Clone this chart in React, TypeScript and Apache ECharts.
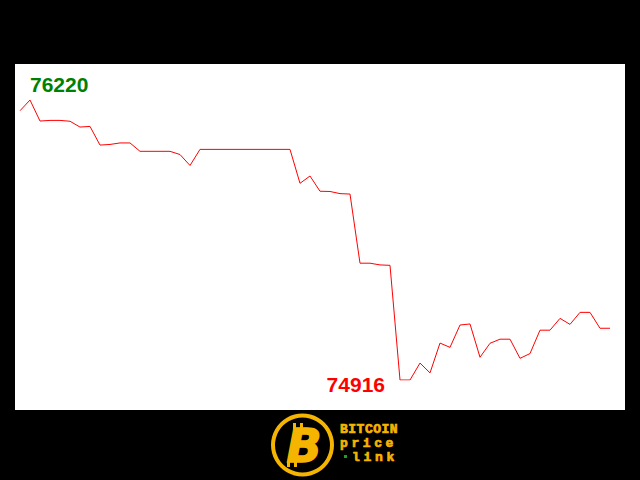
import React, { useEffect, useRef } from "react";
import * as echarts from "echarts";

// one price sample per step
const prices = [
  76170, 76220, 76122, 76125, 76125, 76121, 76094, 76097, 76010, 76013,
  76020, 76020, 75981, 75981, 75981, 75981, 75966, 75915, 75990, 75990,
  75990, 75990, 75990, 75990, 75990, 75990, 75990, 75990, 75832, 75866,
  75795, 75794, 75784, 75782, 75460, 75460, 75452, 75450, 74916, 74916,
  74995, 74949, 75088, 75068, 75172, 75177, 75022, 75087, 75106, 75106,
  75017, 75039, 75148, 75148, 75203, 75175, 75231, 75231, 75157, 75157,
];
const steps = prices.map((_, i) => String(i));

const logoWord = "BITCOIN";
const logoPrice = "price";
const logoLink = "link";
const gold = "#f5b400";

const App = () => {
  const el = useRef<HTMLDivElement>(null);

  useEffect(() => {
    if (!el.current) return;
    const chart = echarts.init(el.current, null, { renderer: "svg" });

    const logoText = (text: string, x: number, y: number, size: number) => ({
      type: "text",
      x,
      y,
      style: {
        text,
        fill: gold,
        stroke: gold,
        lineWidth: 0.7,
        font: `bold ${size}px "Liberation Mono", monospace`,
        lineHeight: 11,
        textAlign: "left",
        textVerticalAlign: "middle",
      },
    });
    // the logo letters are spaced wider than the font, so set letter by letter
    const letters = (word: string, x0: number, y: number, step: number, size: number) =>
      word.split("").map((ch, k) => logoText(ch, x0 + k * step, y, size));

    chart.setOption({
      animation: false,
      backgroundColor: "#000000",
      grid: { left: 20, right: 30, top: 100, height: 280 },
      xAxis: {
        type: "category",
        boundaryGap: false,
        data: steps,
        show: false,
      },
      yAxis: {
        type: "value",
        min: "dataMin",
        max: "dataMax",
        show: false,
      },
      graphic: [
        {
          type: "rect",
          z: -10,
          shape: { x: 15, y: 64, width: 610, height: 346 },
          style: { fill: "#ffffff" },
        },
        {
          type: "ring",
          shape: { cx: 302.5, cy: 445, r: 31.5, r0: 27.5 },
          style: { fill: gold },
        },
        {
          type: "text",
          x: 304,
          y: 446,
          style: {
            text: "B",
            fill: gold,
            stroke: gold,
            lineWidth: 1.5,
            font: 'italic 900 46px "DejaVu Sans", sans-serif',
            textAlign: "center",
            textVerticalAlign: "middle",
          },
        },
        { type: "rect", shape: { x: 293, y: 423, width: 3, height: 6 }, style: { fill: gold } },
        { type: "rect", shape: { x: 300, y: 423, width: 3, height: 6 }, style: { fill: gold } },
        { type: "rect", shape: { x: 287, y: 462, width: 3, height: 5 }, style: { fill: gold } },
        { type: "rect", shape: { x: 294, y: 462, width: 3, height: 5 }, style: { fill: gold } },
        ...letters(logoWord, 340, 429, 8.3, 13),
        ...letters(logoPrice, 340, 443, 11.4, 13),
        { type: "rect", shape: { x: 344, y: 455, width: 3, height: 3 }, style: { fill: "#1ea01e" } },
        ...letters(logoLink, 352, 457, 11.5, 13),
      ],
      series: [
        {
          type: "line",
          data: prices,
          showSymbol: false,
          lineStyle: { color: "#ff0000", width: 1 },
          markPoint: {
            symbol: "circle",
            symbolSize: 0,
            data: [
              {
                type: "max",
                label: {
                  color: "#008000",
                  align: "left",
                  offset: [0, -16],
                },
              },
              {
                type: "min",
                label: {
                  color: "#ff0000",
                  align: "right",
                  offset: [-15, 4],
                },
              },
            ],
            label: {
              show: true,
              position: "inside",
              verticalAlign: "middle",
              fontFamily: "Liberation Sans",
              fontWeight: "bold",
              fontSize: 21,
              formatter: (p: any) => String(p.value),
            },
          },
        },
      ],
    });

    return () => chart.dispose();
  }, []);

  return (
    <div
      ref={el}
      style={{ position: "fixed", left: 0, top: 0, width: 640, height: 480 }}
    />
  );
};

export default App;
